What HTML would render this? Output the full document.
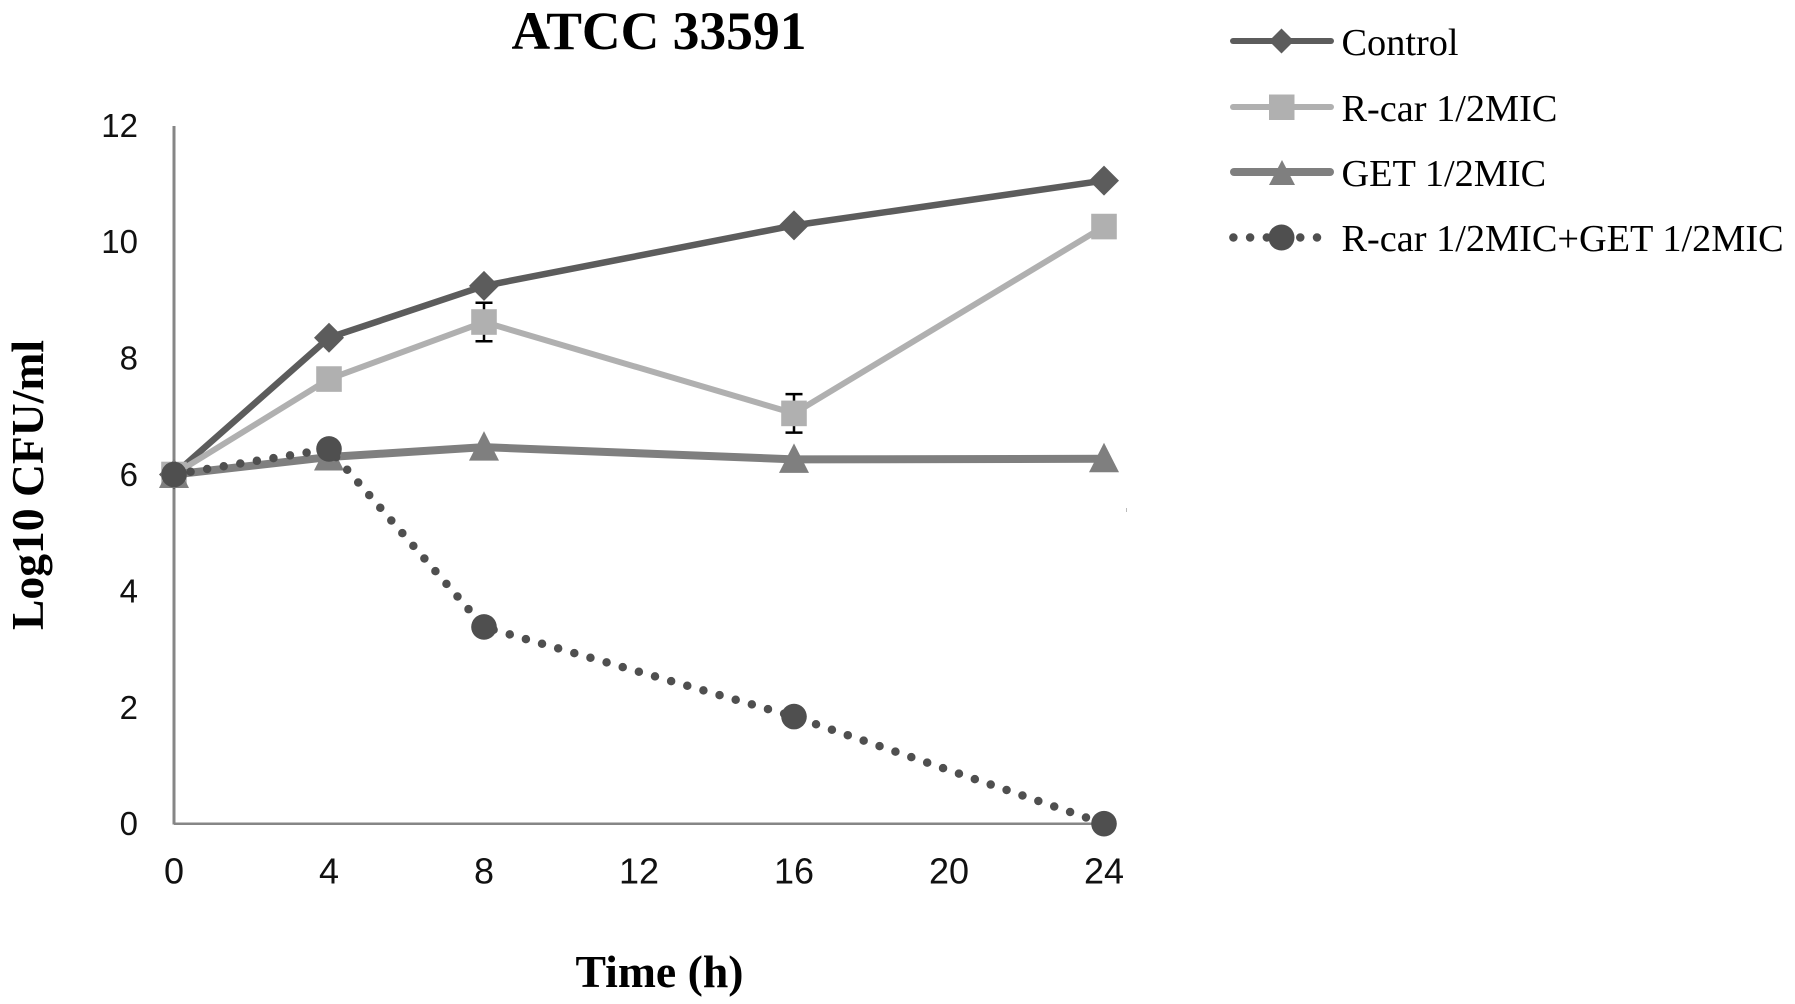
<!DOCTYPE html>
<html lang="en">
<head>
<meta charset="utf-8">
<title>ATCC 33591</title>
<style>
  html, body { margin: 0; padding: 0; background: #fff; }
  svg { display: block; }
  .serif { font-family: "Liberation Serif", serif; fill: #000; }
  .sans { font-family: "Liberation Sans", sans-serif; fill: #111; }
</style>
</head>
<body>
<svg id="chart" xmlns="http://www.w3.org/2000/svg" width="1795" height="1004" viewBox="0 0 1795 1004">
  <rect x="0" y="0" width="1795" height="1004" fill="#ffffff"/>
  <text class="serif" x="659" y="49" font-size="54" font-weight="bold" text-anchor="middle" textLength="295" lengthAdjust="spacingAndGlyphs">ATCC 33591</text>
  <text class="serif" transform="translate(43,485) rotate(-90)" font-size="46" font-weight="bold" text-anchor="middle" textLength="290" lengthAdjust="spacingAndGlyphs">Log10 CFU/ml</text>
  <text class="serif" x="659.5" y="987" font-size="45" font-weight="bold" text-anchor="middle" textLength="168" lengthAdjust="spacingAndGlyphs">Time (h)</text>

  <line x1="174" y1="126" x2="174" y2="824.5" stroke="#868686" stroke-width="3"/>
  <line x1="174" y1="823.7" x2="1104" y2="823.7" stroke="#868686" stroke-width="2.5"/>
  <g id="y-ticks"></g>
  <g id="x-ticks"></g>
  <g id="series"></g>
  <rect x="1126" y="508" width="1" height="4" fill="#bbbbbb"/>

  <g>
    <g>
      <line x1="1233" y1="41" x2="1331" y2="41" stroke="#5c5c5c" stroke-width="6" stroke-linecap="round"/>
      <polygon points="1281.5,28.5 1294,41 1281.5,53.5 1269,41" fill="#5c5c5c"/>
      <text class="serif" x="1341.5" y="55" font-size="38.3">Control</text>
    </g>
    <g>
      <line x1="1233" y1="107" x2="1331" y2="107" stroke="#b0b0b0" stroke-width="6" stroke-linecap="round"/>
      <rect x="1269" y="94.5" width="25.5" height="25.5" fill="#b0b0b0"/>
      <text class="serif" x="1341.5" y="121" font-size="38.3">R-car 1/2MIC</text>
    </g>
    <g>
      <line x1="1234" y1="172" x2="1330" y2="172" stroke="#7f7f7f" stroke-width="8" stroke-linecap="round"/>
      <polygon points="1282,160 1295,185 1269,185" fill="#7f7f7f"/>
      <text class="serif" x="1341.5" y="186" font-size="38.3">GET 1/2MIC</text>
    </g>
    <g>
      <line x1="1233.4" y1="237.5" x2="1317" y2="237.5" stroke="#4f4f4f" stroke-width="8.5" stroke-linecap="round" stroke-dasharray="0 16.72"/>
      <circle cx="1281.5" cy="237.5" r="13" fill="#4f4f4f"/>
      <text class="serif" x="1341.5" y="251" font-size="38.3">R-car 1/2MIC+GET 1/2MIC</text>
    </g>
  </g>
</svg>

<script>
const hours = [0, 4, 8, 16, 24];
const controlValues = [6.0, 8.35, 9.24, 10.28, 11.05];
const rcarValues = [6.0, 7.64, 8.62, 7.05, 10.26];
const rcarErrors = [0, 0, 0.33, 0.33, 0];
const getValues = [6.0, 6.3, 6.47, 6.26, 6.27];
const comboValues = [6.0, 6.44, 3.38, 1.84, 0];
const xTickLabels = [0, 4, 8, 12, 16, 20, 24];
const yTickLabels = [0, 2, 4, 6, 8, 10, 12];

const NS = 'http://www.w3.org/2000/svg';
const seriesLayer = document.getElementById('series');
const xScale = function (h) { return 174 + h * (930 / 24); };
const yScale = function (v) { return 823.7 - v * (698.4 / 12); };

yTickLabels.forEach(function (t) {
  const el = document.createElementNS(NS, 'text');
  
  
  el.setAttribute('class', 'sans');
  el.setAttribute('x', 138);
  el.setAttribute('y', yScale(t) + 11.5);
  el.setAttribute('font-size', 33);
  el.setAttribute('text-anchor', 'end');
  el.textContent = t;
  document.getElementById('y-ticks').appendChild(el);
});

xTickLabels.forEach(function (t) {
  const el = document.createElementNS(NS, 'text');
  
  
  el.setAttribute('class', 'sans');
  el.setAttribute('x', xScale(t));
  el.setAttribute('y', 883.5);
  el.setAttribute('font-size', 36);
  el.setAttribute('text-anchor', 'middle');
  el.textContent = t;
  document.getElementById('x-ticks').appendChild(el);
});

function seriesPoints(values) {
  return values.map(function (v, i) {
    return xScale(hours[i]) + ',' + yScale(v);
  }).join(' ');
}

function drawLine(values, name, color, width, dash) {
  const el = document.createElementNS(NS, 'polyline');
  
  
  el.setAttribute('points', seriesPoints(values));
  el.setAttribute('fill', 'none');
  el.setAttribute('stroke', color);
  el.setAttribute('stroke-width', width);
  el.setAttribute('stroke-linejoin', 'round');
  if (dash) {
    el.setAttribute('stroke-dasharray', dash);
    el.setAttribute('stroke-linecap', 'round');
  }
  seriesLayer.appendChild(el);
}

function drawPolygon(name, points, color) {
  const el = document.createElementNS(NS, 'polygon');
  
  
  el.setAttribute('points', points);
  el.setAttribute('fill', color);
  seriesLayer.appendChild(el);
}

/* control series */
drawLine(controlValues, 'control-line', '#5c5c5c', 6.5);
controlValues.forEach(function (v, i) {
  const x = xScale(hours[i]);
  const y = yScale(v);
  drawPolygon('control-point', x + ',' + (y - 15) + ' ' + (x + 15) + ',' + y + ' ' + x + ',' + (y + 15) + ' ' + (x - 15) + ',' + y, '#5c5c5c');
});

/* R-car series with error bars */
drawLine(rcarValues, 'rcar-line', '#b0b0b0', 6);
rcarValues.forEach(function (v, i) {
  const x = xScale(hours[i]);
  const e = rcarErrors[i];
  if (e > 0) {
    const top = yScale(v + e);
    const bottom = yScale(v - e);
    const path = document.createElementNS(NS, 'path');
    
    
    path.setAttribute('d', 'M' + (x - 8.5) + ' ' + top + 'H' + (x + 8.5) + 'M' + x + ' ' + top + 'V' + bottom + 'M' + (x - 8.5) + ' ' + bottom + 'H' + (x + 8.5));
    path.setAttribute('fill', 'none');
    path.setAttribute('stroke', '#000000');
    path.setAttribute('stroke-width', 2.5);
    seriesLayer.appendChild(path);
  }
  const rect = document.createElementNS(NS, 'rect');
  
  
  rect.setAttribute('x', x - 12.8);
  rect.setAttribute('y', yScale(v) - 12.8);
  rect.setAttribute('width', 25.6);
  rect.setAttribute('height', 25.6);
  rect.setAttribute('fill', '#b0b0b0');
  seriesLayer.appendChild(rect);
});

/* GET series */
drawLine(getValues, 'get-line', '#7f7f7f', 8);
getValues.forEach(function (v, i) {
  const x = xScale(hours[i]);
  const y = yScale(v);
  drawPolygon('get-point', x + ',' + (y - 16) + ' ' + (x + 15) + ',' + (y + 13.5) + ' ' + (x - 15) + ',' + (y + 13.5), '#7f7f7f');
});

/* combination series */
drawLine(comboValues, 'combination-line', '#4f4f4f', 8.5, '0 16.8');
comboValues.forEach(function (v, i) {
  const c = document.createElementNS(NS, 'circle');
  
  
  c.setAttribute('cx', xScale(hours[i]));
  c.setAttribute('cy', yScale(v));
  c.setAttribute('r', 12.8);
  c.setAttribute('fill', '#4f4f4f');
  seriesLayer.appendChild(c);
});
</script>
</body>
</html>
